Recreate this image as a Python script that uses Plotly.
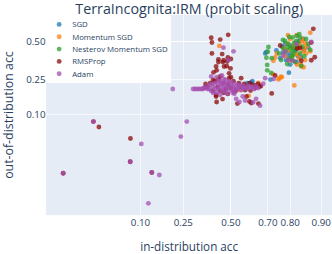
from statistics import NormalDist
import plotly.graph_objects as go

probit = NormalDist().inv_cdf

# ---------------- data (accuracy values) ----------------
sgd_in = [0.614, 0.62, 0.593, 0.795, 0.713, 0.687, 0.693, 0.80, 0.812, 0.779, 0.80, 0.83,
          0.758, 0.741, 0.848, 0.824, 0.783, 0.767, 0.864, 0.834, 0.80, 0.82, 0.79, 0.85,
          0.84, 0.77]
sgd_out = [0.237, 0.243, 0.233, 0.292, 0.252, 0.416, 0.425, 0.342, 0.449, 0.482, 0.416, 0.397,
           0.384, 0.436, 0.515, 0.359, 0.371, 0.462, 0.456, 0.502, 0.47, 0.43, 0.40, 0.44,
           0.39, 0.42]

mom_in = [0.87, 0.849, 0.841, 0.765, 0.75, 0.725, 0.727, 0.735, 0.743, 0.791, 0.843, 0.854,
          0.831, 0.826, 0.816, 0.435, 0.552, 0.60, 0.652, 0.754, 0.762, 0.80, 0.819, 0.854,
          0.837, 0.808, 0.792, 0.857, 0.779, 0.834, 0.848, 0.824, 0.775, 0.854, 0.845, 0.86,
          0.81, 0.83, 0.79, 0.82, 0.87, 0.80, 0.84]
mom_out = [0.559, 0.325, 0.33, 0.265, 0.253, 0.283, 0.367, 0.389, 0.416, 0.542, 0.497, 0.487,
           0.409, 0.342, 0.221, 0.467, 0.198, 0.171, 0.234, 0.26, 0.268, 0.515, 0.482, 0.449,
           0.469, 0.397, 0.436, 0.416, 0.397, 0.384, 0.429, 0.542, 0.449, 0.371, 0.515, 0.469,
           0.46, 0.45, 0.48, 0.41, 0.43, 0.37, 0.345]

nes_in = [0.87, 0.697, 0.697, 0.693, 0.703, 0.70, 0.77, 0.81, 0.826, 0.837, 0.807, 0.719,
          0.716, 0.792, 0.808, 0.819, 0.83, 0.783, 0.812, 0.837, 0.80, 0.824, 0.771, 0.845,
          0.796, 0.857, 0.851, 0.819, 0.788, 0.753, 0.864, 0.834, 0.779, 0.808, 0.762, 0.841,
          0.80, 0.815, 0.825, 0.79, 0.81]
nes_out = [0.44, 0.306, 0.34, 0.387, 0.46, 0.427, 0.509, 0.526, 0.537, 0.526, 0.395, 0.384,
           0.29, 0.482, 0.462, 0.436, 0.489, 0.429, 0.409, 0.416, 0.384, 0.502, 0.449, 0.462,
           0.529, 0.515, 0.397, 0.359, 0.346, 0.416, 0.482, 0.549, 0.502, 0.371, 0.371, 0.334,
           0.45, 0.49, 0.465, 0.46, 0.43]

rms_in = [0.0256, 0.0306, 0.0772, 0.0766, 0.0087, 0.131,
          0.39, 0.394, 0.485, 0.44, 0.394, 0.451, 0.43, 0.455, 0.483, 0.479, 0.417, 0.42,
          0.462, 0.498, 0.50, 0.403, 0.558, 0.50, 0.43, 0.459, 0.477, 0.49,
          0.37, 0.385, 0.40, 0.41, 0.425, 0.44, 0.455, 0.47, 0.485, 0.50, 0.515, 0.53,
          0.545, 0.56, 0.575, 0.59, 0.605, 0.62, 0.635, 0.65, 0.665, 0.36, 0.43, 0.46,
          0.52, 0.58, 0.61, 0.49, 0.44, 0.40, 0.355,
          0.417, 0.42, 0.453, 0.483, 0.537, 0.604, 0.652, 0.588, 0.638, 0.657, 0.719, 0.614,
          0.417,
          0.879, 0.873, 0.883, 0.873, 0.758, 0.837, 0.841, 0.735, 0.826]
rms_out = [0.081, 0.0678, 0.0452, 0.018, 0.0108, 0.0112,
           0.524, 0.491, 0.544, 0.511, 0.416, 0.411, 0.376, 0.358, 0.389, 0.362, 0.33, 0.306,
           0.33, 0.318, 0.265, 0.294, 0.26, 0.378, 0.359, 0.37, 0.332, 0.288,
           0.213, 0.233, 0.194, 0.243, 0.213, 0.194, 0.233, 0.203, 0.223, 0.208, 0.243, 0.198,
           0.233, 0.213, 0.228, 0.213, 0.233, 0.223, 0.208, 0.228, 0.218, 0.228, 0.254, 0.185,
           0.19, 0.198, 0.195, 0.26, 0.27, 0.25, 0.208,
           0.168, 0.145, 0.157, 0.18, 0.139, 0.147, 0.139, 0.168, 0.222, 0.214, 0.182, 0.141,
           0.175,
           0.585, 0.49, 0.39, 0.37, 0.47, 0.453, 0.367, 0.275, 0.449]

adam_in = [0.266, 0.102, 0.239, 0.077, 0.0087, 0.131, 0.155, 0.121, 0.0256,
           0.205, 0.296, 0.305, 0.315, 0.325, 0.335, 0.345,
           0.39, 0.458, 0.487, 0.515,
           0.53, 0.58, 0.64, 0.661, 0.548, 0.567, 0.624, 0.677, 0.728, 0.687,
           0.36, 0.37, 0.38, 0.39, 0.40, 0.41, 0.41, 0.42, 0.43, 0.43, 0.44, 0.44, 0.45, 0.45,
           0.46, 0.46, 0.47, 0.47, 0.48, 0.48, 0.49, 0.49, 0.50, 0.50, 0.51, 0.51, 0.52, 0.52,
           0.53, 0.53, 0.54, 0.54, 0.55, 0.56, 0.56, 0.57, 0.58, 0.59, 0.60, 0.61, 0.62, 0.63,
           0.64, 0.65, 0.42, 0.45, 0.43, 0.47, 0.40, 0.44, 0.48, 0.52, 0.46, 0.50, 0.38, 0.35,
           0.395,
           0.873, 0.771, 0.794, 0.812, 0.779, 0.824]
adam_out = [0.081, 0.037, 0.0485, 0.018, 0.0108, 0.0112, 0.010, 0.0024, 0.081,
            0.203, 0.203, 0.203, 0.203, 0.203, 0.203, 0.203,
            0.27, 0.455, 0.372, 0.43,
            0.158, 0.151, 0.158, 0.131, 0.145, 0.168, 0.144, 0.23, 0.256, 0.26,
            0.213, 0.203, 0.223, 0.194, 0.213, 0.233, 0.203, 0.185, 0.223, 0.203, 0.243, 0.213,
            0.194, 0.228, 0.208, 0.254, 0.218, 0.190, 0.233, 0.203, 0.213, 0.243, 0.198, 0.223,
            0.213, 0.185, 0.228, 0.203, 0.213, 0.194, 0.223, 0.203, 0.213, 0.198, 0.223, 0.208,
            0.213, 0.203, 0.218, 0.208, 0.213, 0.203, 0.218, 0.208, 0.265, 0.276, 0.243, 0.25,
            0.185, 0.176, 0.18, 0.18, 0.232, 0.238, 0.203, 0.208, 0.228,
            0.495, 0.40, 0.372, 0.366, 0.427, 0.48]

series_names = ["SGD", "Momentum SGD", "Nesterov Momentum SGD", "RMSProp", "Adam"]
series_in = [sgd_in, mom_in, nes_in, rms_in, adam_in]
series_out = [sgd_out, mom_out, nes_out, rms_out, adam_out]
series_colors = ["#1f77b4", "#ff7f0e", "#2ca02c", "#8b0a0a", "#a64fb2"]

x_ticks = [0.10, 0.25, 0.50, 0.70, 0.80, 0.90]
y_ticks = [0.10, 0.25, 0.50]

# ---------------- figure (laid out at 511x391, shown scaled by 0.65) ----------------
S = 0.65
fig = go.Figure()
for name, xs, ys, col in zip(series_names, series_in, series_out, series_colors):
    fig.add_trace(go.Scatter(
        x=[probit(v) for v in xs], y=[probit(v) for v in ys],
        mode="markers", name=name,
        marker=dict(color=col, size=7.5, opacity=0.75),
    ))

fig.update_layout(
    template="plotly",
    width=511, height=391,
    margin=dict(l=71, r=0, t=23, b=47),
    title=dict(text="TerraIncognita:IRM (probit scaling)", x=0.57, xanchor="center",
               y=0.966, yanchor="middle", font=dict(size=22)),
    legend=dict(x=0, y=1, xanchor="left", yanchor="top", bgcolor="white",
                font=dict(size=12)),
    xaxis=dict(title=dict(text="in-distribution acc", font=dict(size=18), standoff=27),
               range=[-2.62, 1.437],
               tickvals=[probit(v) for v in x_ticks],
               ticktext=[f"{v:.2f}" for v in x_ticks],
               tickfont=dict(size=15)),
    yaxis=dict(title=dict(text="out-of-distribution acc", font=dict(size=19)),
               range=[-3.025, 0.456],
               tickvals=[probit(v) for v in y_ticks],
               ticktext=[f"{v:.2f}" for v in y_ticks],
               tickfont=dict(size=15)),
)

post = ("var gd=document.getElementById('{plot_id}');"
        "gd.style.transform='scale(%s)';gd.style.transformOrigin='0 0';"
        "document.body.style.margin='0';document.body.style.overflow='hidden';" % S)
fig.write_html("out.html", post_script=post, config={"displayModeBar": False})
